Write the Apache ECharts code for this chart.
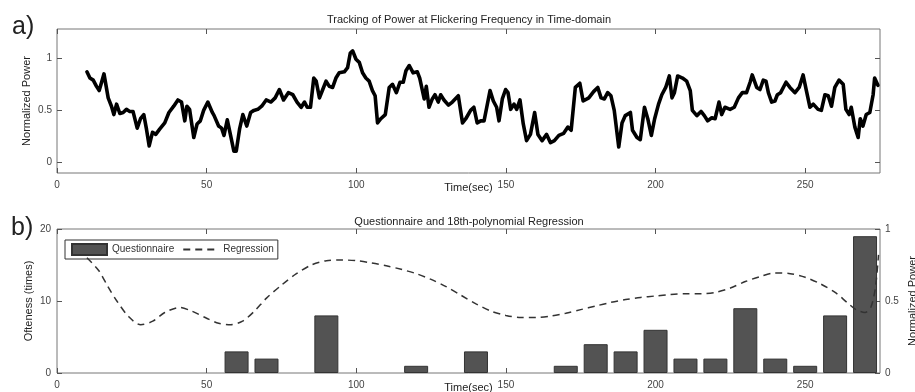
<!DOCTYPE html>
<html>
<head>
<meta charset="utf-8">
<script src="https://cdn.jsdelivr.net/npm/echarts@6/dist/echarts.min.js"></script>
<style>
  html, body { margin: 0; padding: 0; background: #fff; }
  #chart { width: 915px; height: 392px; }
</style>
</head>
<body>
<div id="chart"></div>
<script>
// a) power tracked at the flickering frequency
const timeSec = [
  10, 11, 12.1, 13.2, 14.1, 14.9, 15.7, 16.3, 17.1, 18.2, 19, 19.9, 21, 22.1, 23.2, 24.3, 25.4, 26.8, 27.9, 29,
  29.9, 30.8, 31.9, 33, 34.3, 36, 37.4, 39, 40.4, 41.6, 42.7, 43.4, 44.3, 45.7, 46.8, 47.9, 49, 50.4, 51.9, 52.5,
  54, 55, 55.8, 56.9, 58, 59.1, 59.9, 61, 62.1, 63.4, 64.7, 65.8, 67.1, 68.4, 69.9, 71.5, 72.9, 74.3, 75.7, 77.3,
  78.8, 80.2, 81.6, 82.7, 83.6, 84.7, 85.8, 86.6, 87.7, 88.8, 89.9, 91, 92.1, 93.2, 94.3, 96, 97.1, 98, 98.8, 99.9,
  101, 102.1, 103.2, 104.3, 105.4, 106.3, 107.1, 108.2, 109.7, 111, 112.1, 113.4, 114.6, 115.7, 116.6, 117.7, 119, 120.4, 121.2, 122.7,
  123.4, 124.3, 125.4, 126.3, 127.4, 128.2, 129.3, 130.8, 132.1, 134.1, 135.5, 136.6, 138.2, 139.3, 140.4, 141.6, 142.7, 143.6, 144.7, 145.8,
  146.9, 147.7, 148.8, 149.9, 150.7, 151.6, 152.7, 153.6, 154.7, 155.8, 156.9, 158.2, 159.6, 160.7, 162.1, 163.6, 164.9, 166.2, 167.7, 169.3,
  170.7, 171.8, 173.2, 174.7, 175.8, 177.7, 179.3, 180.7, 181.8, 182.9, 184, 185.1, 186.2, 187.7, 188.8, 189.9, 191.6, 192.3, 193.8, 194.9,
  196.3, 197.4, 198.6, 199.7, 201, 202.1, 203.4, 204.6, 205.5, 206.3, 207.4, 209, 210.4, 211.6, 212.3, 213.8, 215.2, 216.3, 217.4, 218.8,
  219.9, 221.2, 222.1, 223.2, 224.9, 226.3, 227.7, 229, 230.4, 231.6, 232.3, 233.8, 234.9, 236, 236.9, 237.7, 238.8, 239.9, 240.7, 241.8,
  243.6, 244.9, 246.6, 248, 249.3, 250.4, 251.6, 252.7, 254.3, 255.4, 256.6, 257.7, 258.8, 259.9, 261.3, 262.7, 263.6, 264.7, 265.4, 266.6,
  267.7, 268.4, 269.3, 270.4, 271.6, 272.7, 273.2, 274.3
];
const powerValues = [
  0.87, 0.81, 0.79, 0.73, 0.69, 0.77, 0.85, 0.84, 0.62, 0.54, 0.46, 0.56, 0.47, 0.48, 0.51, 0.49, 0.49, 0.33, 0.42, 0.46,
  0.32, 0.16, 0.29, 0.27, 0.32, 0.38, 0.48, 0.54, 0.6, 0.58, 0.4, 0.54, 0.51, 0.24, 0.37, 0.4, 0.5, 0.58, 0.48, 0.45,
  0.35, 0.33, 0.26, 0.41, 0.26, 0.11, 0.11, 0.32, 0.46, 0.35, 0.48, 0.5, 0.51, 0.54, 0.6, 0.58, 0.62, 0.7, 0.6, 0.67,
  0.65, 0.58, 0.53, 0.58, 0.53, 0.53, 0.81, 0.78, 0.62, 0.7, 0.78, 0.73, 0.72, 0.81, 0.86, 0.87, 0.91, 1.05, 1.07, 0.99,
  0.96, 0.86, 0.81, 0.78, 0.69, 0.64, 0.38, 0.42, 0.46, 0.72, 0.75, 0.67, 0.77, 0.77, 0.88, 0.93, 0.86, 0.87, 0.81, 0.61,
  0.73, 0.53, 0.61, 0.65, 0.58, 0.65, 0.6, 0.55, 0.58, 0.64, 0.38, 0.42, 0.5, 0.53, 0.38, 0.4, 0.4, 0.53, 0.69, 0.59,
  0.53, 0.4, 0.61, 0.7, 0.67, 0.51, 0.56, 0.51, 0.6, 0.37, 0.21, 0.27, 0.48, 0.27, 0.21, 0.27, 0.19, 0.21, 0.26, 0.28,
  0.34, 0.31, 0.72, 0.76, 0.59, 0.62, 0.68, 0.72, 0.62, 0.61, 0.67, 0.64, 0.5, 0.15, 0.38, 0.45, 0.48, 0.31, 0.24, 0.22,
  0.53, 0.42, 0.26, 0.42, 0.56, 0.65, 0.72, 0.83, 0.62, 0.67, 0.83, 0.81, 0.78, 0.69, 0.5, 0.45, 0.49, 0.45, 0.4, 0.43,
  0.42, 0.58, 0.46, 0.53, 0.51, 0.53, 0.62, 0.67, 0.67, 0.77, 0.84, 0.72, 0.7, 0.79, 0.78, 0.67, 0.58, 0.59, 0.65, 0.67,
  0.77, 0.72, 0.67, 0.72, 0.84, 0.69, 0.53, 0.56, 0.51, 0.5, 0.65, 0.64, 0.54, 0.72, 0.79, 0.75, 0.51, 0.46, 0.53, 0.34,
  0.24, 0.42, 0.35, 0.46, 0.48, 0.65, 0.81, 0.74
];

// b) questionnaire counts
const barTimes = [60, 70, 90, 120, 140, 170, 180, 190, 200, 210, 220, 230, 240, 250, 260, 270];
const barCounts = [3, 2, 8, 1, 3, 1, 4, 3, 6, 2, 2, 9, 2, 1, 8, 19];

// b) 18th-polynomial regression curve (right axis)
const regTimes = [
  10, 14, 17, 20, 24, 28, 32, 36, 41, 45, 50, 54, 58, 62, 66, 70, 75, 80, 85, 90,
  95, 100, 105, 110, 115, 120, 125, 130, 135, 140, 145, 150, 155, 160, 165, 170, 175, 180, 185, 190,
  195, 200, 205, 210, 215, 220, 225, 230, 235, 240, 245, 250, 255, 260, 264, 267, 270, 272, 273.5, 274.5
];
const regValues = [
  0.8, 0.71, 0.6, 0.5, 0.39, 0.335, 0.36, 0.42, 0.455, 0.43, 0.38, 0.345, 0.335, 0.36, 0.43, 0.52, 0.61, 0.69, 0.75, 0.78,
  0.785, 0.78, 0.765, 0.745, 0.72, 0.69, 0.65, 0.6, 0.54, 0.48, 0.43, 0.4, 0.385, 0.385, 0.395, 0.415, 0.44, 0.465, 0.49, 0.51,
  0.525, 0.535, 0.545, 0.55, 0.55, 0.56, 0.59, 0.635, 0.67, 0.695, 0.69, 0.665, 0.62, 0.56, 0.49, 0.44, 0.42, 0.46, 0.6, 0.82
];

const xTicks = [0, 50, 100, 150, 200, 250];
const powerTicks = [0, 0.5, 1];

const FONT = '"Liberation Sans", Arial, sans-serif';
const tickStyle = { show: true, inside: true, length: 5, lineStyle: { color: '#555' } };
const labelStyle = { color: '#444', fontSize: 10, fontFamily: FONT };
const nameStyle = { color: '#222', fontSize: 11, fontFamily: FONT };

function timeAxis(grid, position, withLabels) {
  return {
    type: 'value',
    gridIndex: grid,
    position,
    min: 0,
    max: 275,
    axisLine: { show: false, onZero: false },
    axisTick: Object.assign({ customValues: xTicks }, tickStyle),
    axisLabel: withLabels
      ? Object.assign({ customValues: xTicks, margin: 7 }, labelStyle)
      : { show: false },
    splitLine: { show: false },
    name: withLabels ? 'Time(sec)' : '',
    nameLocation: 'middle',
    nameGap: 9,
    nameMoveOverlap: false,
    nameTextStyle: nameStyle,
  };
}

const chart = echarts.init(document.getElementById('chart'));
chart.setOption({
  animation: false,
  textStyle: { fontFamily: FONT },
  title: [
    {
      text: 'Tracking of Power at Flickering Frequency in Time-domain',
      left: 469, top: 14, padding: 0, textAlign: 'center',
      textStyle: { fontSize: 11, fontWeight: 'normal', color: '#222', fontFamily: FONT },
    },
    {
      text: 'Questionnaire and 18th-polynomial Regression',
      left: 469, top: 216, padding: 0, textAlign: 'center',
      textStyle: { fontSize: 11, fontWeight: 'normal', color: '#222', fontFamily: FONT },
    },
  ],
  graphic: [
    { type: 'text', left: 12, top: 15, style: { text: 'a)', fontSize: 25, fill: '#222', fontFamily: FONT } },
    { type: 'text', left: 11, top: 216, style: { text: 'b)', fontSize: 25, fill: '#222', fontFamily: FONT } },
  ],
  legend: {
    left: 65, top: 240,
    orient: 'horizontal',
    backgroundColor: '#fff',
    borderColor: '#333', borderWidth: 1,
    padding: [3, 4, 3, 6],
    itemWidth: 35, itemHeight: 11, itemGap: 8,
    textStyle: { color: '#333', fontSize: 10, fontFamily: FONT },
    data: [
      { name: 'Questionnaire', icon: 'rect' },
      { name: 'Regression', itemStyle: { opacity: 0 } },
    ],
  },
  grid: [
    { left: 57, right: 35, top: 29, height: 144, outerBoundsMode: 'none', show: true, borderColor: '#777', borderWidth: 1, backgroundColor: '#fff' },
    { left: 57, right: 35, top: 229, height: 144, outerBoundsMode: 'none', show: true, borderColor: '#777', borderWidth: 1, backgroundColor: '#fff' },
  ],
  xAxis: [
    timeAxis(0, 'bottom', true),
    timeAxis(0, 'top', false),
    timeAxis(1, 'bottom', true),
    timeAxis(1, 'top', false),
  ],
  yAxis: [
    {
      type: 'value', gridIndex: 0, position: 'left', min: -0.1, max: 1.28,
      axisLine: { show: false, onZero: false },
      axisTick: Object.assign({ customValues: powerTicks }, tickStyle),
      axisLabel: Object.assign({ customValues: powerTicks, margin: 5 }, labelStyle),
      splitLine: { show: false },
      name: 'Normalized Power', nameLocation: 'middle', nameGap: 25,
      nameMoveOverlap: false, nameTextStyle: nameStyle,
    },
    {
      type: 'value', gridIndex: 0, position: 'right', min: -0.1, max: 1.28,
      axisLine: { show: false, onZero: false },
      axisTick: Object.assign({ customValues: powerTicks }, tickStyle),
      axisLabel: { show: false },
      splitLine: { show: false },
    },
    {
      type: 'value', gridIndex: 1, position: 'left', min: 0, max: 20, interval: 10,
      axisLine: { show: false, onZero: false },
      axisTick: tickStyle,
      axisLabel: Object.assign({ margin: 6 }, labelStyle),
      splitLine: { show: false },
      name: 'Ofteness (times)', nameLocation: 'middle', nameGap: 23,
      nameMoveOverlap: false, nameTextStyle: nameStyle,
    },
    {
      type: 'value', gridIndex: 1, position: 'right', min: 0, max: 1, interval: 0.5,
      axisLine: { show: false, onZero: false },
      axisTick: tickStyle,
      axisLabel: Object.assign({ margin: 5 }, labelStyle),
      splitLine: { show: false },
      name: 'Normalized Power', nameLocation: 'middle', nameGap: 27,
      nameMoveOverlap: false, nameTextStyle: nameStyle,
    },
  ],
  series: [
    {
      name: 'Power',
      type: 'line',
      xAxisIndex: 0, yAxisIndex: 0,
      data: timeSec.map((t, i) => [t, powerValues[i]]),
      showSymbol: false,
      lineStyle: { color: '#000', width: 3.6, join: 'round', cap: 'round' },
      z: 3,
    },
    {
      name: 'Questionnaire',
      type: 'bar',
      xAxisIndex: 2, yAxisIndex: 2,
      data: barTimes.map((t, i) => [t, barCounts[i]]),
      barWidth: 24,
      itemStyle: { color: '#535353', borderColor: '#333', borderWidth: 1 },
    },
    {
      name: 'Regression',
      type: 'line',
      xAxisIndex: 2, yAxisIndex: 3,
      data: regTimes.map((t, i) => [t, regValues[i]]),
      smooth: 0.3,
      symbol: 'none',
      lineStyle: { color: '#333', width: 1.5, type: [7, 5] },
      itemStyle: { color: '#333' },
      z: 4,
    },
  ],
});
</script>
</body>
</html>
